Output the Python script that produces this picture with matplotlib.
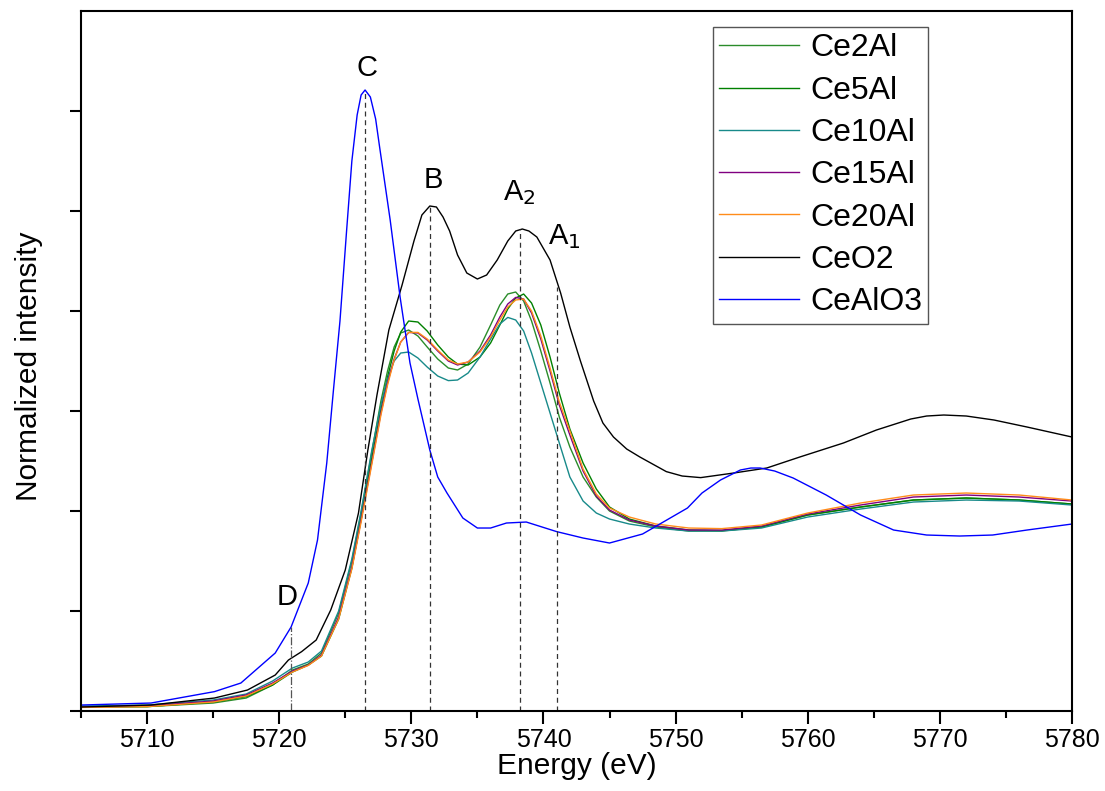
import matplotlib
matplotlib.use("Agg")
import matplotlib.pyplot as plt

plt.rcParams['font.family'] = ['Liberation Sans', 'DejaVu Sans']

# energy grid shared by the Ce-xAl samples (eV)
e_samples = [5705, 5710, 5715, 5717.5, 5719.5, 5721, 5722.2, 5723.2, 5724.5, 5725.5,
             5726.2, 5727, 5727.7, 5728.2, 5728.7, 5729.2, 5729.8, 5730.5, 5731.2, 5732,
             5732.8, 5733.5, 5734.3, 5735.2, 5736, 5736.7, 5737.3, 5737.9, 5738.5, 5739.1,
             5739.8, 5740.5, 5741.2, 5742, 5743, 5744, 5745, 5746.5, 5748.5, 5751,
             5753.5, 5756.5, 5760, 5764, 5768, 5772, 5776, 5780]

ce2al = [0.02, 0.022, 0.04, 0.065, 0.13, 0.205, 0.235, 0.29, 0.49, 0.75,
         0.99, 1.29, 1.55, 1.70, 1.82, 1.89, 1.905, 1.875, 1.82, 1.76,
         1.715, 1.705, 1.735, 1.82, 1.93, 2.03, 2.085, 2.095, 2.05, 1.95,
         1.80, 1.64, 1.47, 1.32, 1.17, 1.07, 1.0, 0.95, 0.92, 0.9,
         0.9, 0.92, 0.98, 1.02, 1.055, 1.065, 1.055, 1.035]
ce5al = [0.02, 0.022, 0.045, 0.072, 0.13, 0.195, 0.23, 0.275, 0.46, 0.715,
         0.96, 1.26, 1.51, 1.67, 1.80, 1.895, 1.95, 1.945, 1.90, 1.83,
         1.77, 1.735, 1.73, 1.77, 1.84, 1.93, 2.01, 2.065, 2.085, 2.04,
         1.93, 1.77, 1.59, 1.41, 1.24, 1.11, 1.02, 0.96, 0.925, 0.905,
         0.902, 0.92, 0.98, 1.02, 1.055, 1.065, 1.055, 1.035]
ce10al = [0.025, 0.03, 0.055, 0.085, 0.15, 0.215, 0.245, 0.30, 0.50, 0.76,
          1.00, 1.30, 1.53, 1.66, 1.75, 1.79, 1.795, 1.765, 1.72, 1.675,
          1.652, 1.655, 1.69, 1.77, 1.86, 1.935, 1.968, 1.955, 1.90, 1.79,
          1.64, 1.49, 1.34, 1.17, 1.05, 0.99, 0.96, 0.935, 0.915, 0.90,
          0.90, 0.915, 0.97, 1.01, 1.045, 1.055, 1.05, 1.03]
ce15al = [0.02, 0.025, 0.05, 0.08, 0.14, 0.2, 0.23, 0.28, 0.47, 0.72,
          0.955, 1.24, 1.49, 1.64, 1.76, 1.845, 1.893, 1.89, 1.855, 1.80,
          1.75, 1.73, 1.745, 1.80, 1.88, 1.97, 2.035, 2.068, 2.06, 1.99,
          1.86, 1.70, 1.53, 1.38, 1.20, 1.075, 1.005, 0.955, 0.925, 0.905,
          0.905, 0.925, 0.985, 1.03, 1.07, 1.08, 1.07, 1.05]
ce20al = [0.018, 0.022, 0.045, 0.075, 0.135, 0.195, 0.228, 0.275, 0.46, 0.71,
          0.945, 1.23, 1.48, 1.63, 1.755, 1.845, 1.893, 1.893, 1.86, 1.805,
          1.755, 1.735, 1.745, 1.795, 1.87, 1.955, 2.02, 2.055, 2.06, 2.0,
          1.875, 1.715, 1.545, 1.40, 1.21, 1.085, 1.015, 0.97, 0.935, 0.915,
          0.912, 0.93, 0.99, 1.04, 1.08, 1.09, 1.08, 1.055]

e_ceo2 = [5705, 5710.3, 5715.1, 5717.6, 5719.7, 5720.7, 5721.7, 5722.8, 5723.9, 5725.0,
          5726.0, 5726.7, 5727.4, 5728.3, 5729.3, 5730.2, 5730.8, 5731.4, 5731.9, 5732.4,
          5732.9, 5733.5, 5734.2, 5735.0, 5735.7, 5736.5, 5737.3, 5737.9, 5738.4, 5738.9,
          5739.5, 5740.5, 5741.3, 5742.0, 5742.8, 5743.8, 5744.5, 5745.3, 5746.3, 5747.3,
          5749.3, 5750.5, 5751.9, 5754.4, 5756.9, 5759.4, 5762.7, 5765.2, 5767.8, 5769.0,
          5770.3, 5772.0, 5774.1, 5776.6, 5780]
ceo2 = [0.02, 0.03, 0.065, 0.105, 0.18, 0.255, 0.297, 0.355, 0.505, 0.705,
        0.99, 1.30, 1.58, 1.905, 2.13, 2.35, 2.48, 2.525, 2.52, 2.47,
        2.40, 2.28, 2.19, 2.16, 2.18, 2.255, 2.35, 2.40, 2.41, 2.40,
        2.37, 2.255, 2.09, 1.92, 1.75, 1.55, 1.44, 1.37, 1.31, 1.27,
        1.197, 1.175, 1.167, 1.19, 1.215, 1.27, 1.34, 1.405, 1.46, 1.475,
        1.48, 1.475, 1.455, 1.42, 1.37]

e_cealo3 = [5705, 5710.3, 5715.1, 5717.1, 5719.7, 5720.9, 5722.2, 5722.9, 5723.6, 5724.1,
            5724.6, 5725.1, 5725.5, 5725.9, 5726.2, 5726.5, 5726.9, 5727.3, 5727.6, 5728.4,
            5729.15, 5729.9, 5730.5, 5731.4, 5732.0, 5732.7, 5733.9, 5735.0, 5736.0, 5737.2,
            5738.7, 5741.0, 5743.0, 5745.0, 5747.5, 5750.9, 5752.0, 5753.4, 5754.9, 5755.7,
            5756.4, 5757.5, 5758.9, 5761.4, 5764.0, 5766.5, 5769.0, 5771.5, 5774.0, 5776.6,
            5780]
cealo3 = [0.03, 0.04, 0.097, 0.14, 0.29, 0.42, 0.64, 0.855, 1.24, 1.60,
          1.95, 2.40, 2.75, 2.98, 3.08, 3.105, 3.07, 2.96, 2.82, 2.455,
          2.07, 1.74, 1.56, 1.305, 1.17, 1.09, 0.965, 0.915, 0.915, 0.94,
          0.945, 0.897, 0.865, 0.84, 0.885, 1.015, 1.09, 1.155, 1.205, 1.215,
          1.215, 1.20, 1.165, 1.08, 0.98, 0.905, 0.88, 0.875, 0.88, 0.905,
          0.935]

# feature markers: label, energy, top of the guide line, label centre
feat_names = ['D', 'C', 'B', r'A$_2$', r'A$_1$']
feat_e = [5720.9, 5726.5, 5731.4, 5738.2, 5741.0]
feat_top = [0.42, 3.10, 2.52, 2.41, 2.12]
feat_lab_x = [5720.6, 5726.65, 5731.65, 5738.2, 5741.6]
feat_lab_y = [0.57, 3.215, 2.655, 2.59, 2.37]

fig = plt.figure(figsize=(11.05, 7.91), dpi=100)
ax = fig.add_axes([0.0733, 0.1011, 0.8968, 0.885])

ax.plot(e_samples, ce2al, color='#2a8c2a', lw=1.0, label='Ce2Al')
ax.plot(e_samples, ce5al, color='#008000', lw=1.0, label='Ce5Al')
ax.plot(e_samples, ce10al, color='#188a8a', lw=1.0, label='Ce10Al')
ax.plot(e_samples, ce15al, color='#800080', lw=1.0, label='Ce15Al')
ax.plot(e_samples, ce20al, color='#ff8c1a', lw=1.0, label='Ce20Al')
ax.plot(e_ceo2, ceo2, color='black', lw=1.0, label='CeO2')
ax.plot(e_cealo3, cealo3, color='#0000ff', lw=1.0, label='CeAlO3')

for i in range(len(feat_names)):
    if feat_names[i] == 'D':
        ax.vlines(feat_e[i], 0, feat_top[i], colors='#555555', linestyles='-.', lw=0.9)
    else:
        ax.vlines(feat_e[i], 0, feat_top[i], colors='#333333', linestyles=(0, (4, 3)), lw=0.9)
    ax.text(feat_lab_x[i], feat_lab_y[i], feat_names[i], fontsize=21, ha='center', va='center')

ax.set_xlim(5705, 5780)
ax.set_ylim(0, 3.5)
ax.set_xticks(range(5710, 5781, 10))
ax.set_xticks(range(5705, 5781, 5), minor=True)
ax.set_yticks([0.5 * k for k in range(7)])
ax.set_yticklabels([])
ax.tick_params(axis='x', which='major', direction='out', length=9, width=1.5, labelsize=18)
ax.tick_params(axis='x', which='minor', direction='out', length=5, width=1.5)
ax.tick_params(axis='y', direction='out', length=8, width=1.5)
for s in ax.spines.values():
    s.set_linewidth(1.5)

ax.set_xlabel('Energy (eV)', fontsize=21.5, labelpad=0)
ax.set_ylabel('Normalized intensity', fontsize=21.5)
ax.yaxis.set_label_coords(-0.038, 0.493)

leg = ax.legend(loc='upper left', bbox_to_anchor=(0.6377, 0.977), fontsize=23,
                handlelength=2.5, handletextpad=0.34, labelspacing=0.385,
                borderpad=0.2, borderaxespad=0, fancybox=False,
                edgecolor='#555555', framealpha=1)
leg.get_frame().set_linewidth(1.0)

fig.savefig('out.png', dpi=100)
